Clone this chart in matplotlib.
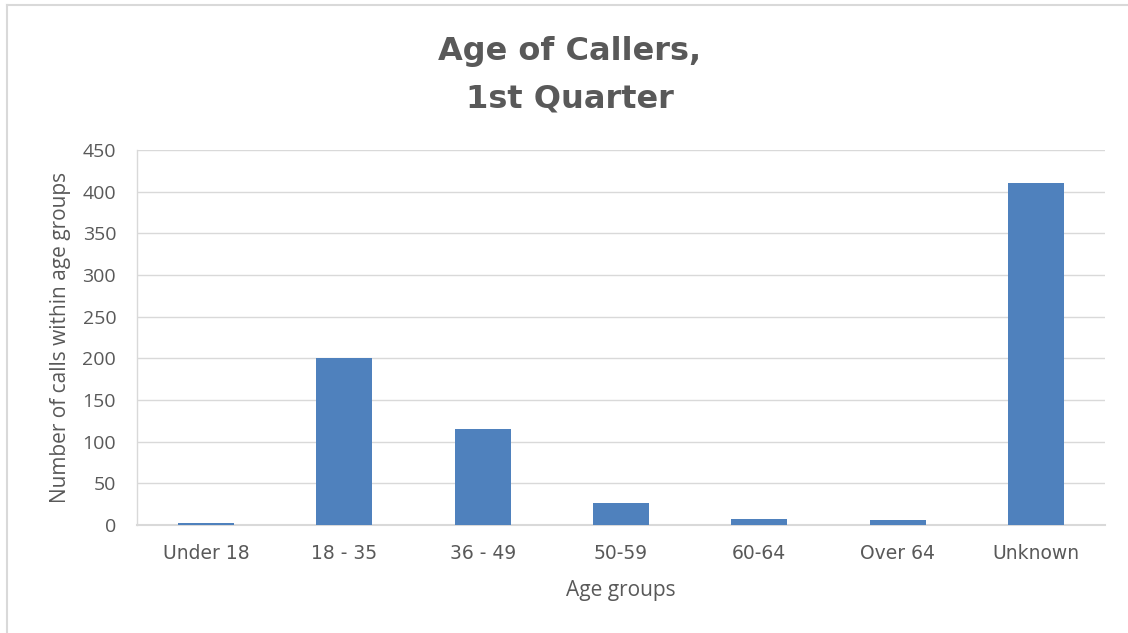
import matplotlib
matplotlib.use("Agg")
import matplotlib.pyplot as plt
from matplotlib.lines import Line2D

categories = ["Under 18", "18 - 35", "36 - 49", "50-59", "60-64", "Over 64", "Unknown"]
calls = [2, 200, 115, 27, 7, 6, 411]
yticks = [0, 50, 100, 150, 200, 250, 300, 350, 400, 450]

W, H = 1128, 633
plt.rcParams["font.family"] = ["Open Sans", "DejaVu Sans"]
fig = plt.figure(figsize=(W / 100, H / 100), dpi=100)
fig.patch.set_facecolor("white")
txt = "#595959"
grid = "#d9d9d9"

# outer chart frame (left and top edges visible)
fig.add_artist(Line2D([7 / W, 7 / W], [0, 1 - 5 / H], transform=fig.transFigure,
                      color=grid, linewidth=1.5))
fig.add_artist(Line2D([7 / W, 1], [1 - 5 / H, 1 - 5 / H], transform=fig.transFigure,
                      color=grid, linewidth=1.5))

ax = fig.add_axes([137 / W, (H - 525) / H, (1105 - 137) / W, (525 - 150) / H])
x = range(len(categories))
ax.bar(x, calls, width=0.405, color="#4f81bd", zorder=3)
ax.set_xlim(-0.5, len(categories) - 0.5)
ax.set_ylim(0, 450)
ax.set_yticks(yticks)
ax.set_xticks(list(x))
ax.set_xticklabels(categories, fontsize=13.5, color=txt, family="DejaVu Sans")
ax.tick_params(axis="y", labelsize=14, colors=txt, length=0, pad=15)
ax.tick_params(axis="x", length=0, pad=14)
ax.yaxis.grid(True, color=grid, linewidth=1, zorder=0)
for s in ["top", "right"]:
    ax.spines[s].set_visible(False)
for s in ["bottom", "left"]:
    ax.spines[s].set_color(grid)
ax.spines["bottom"].set_linewidth(1.5)
ax.spines["left"].set_linewidth(1)
ax.set_xlabel("Age groups", fontsize=15, color=txt, labelpad=12)
ax.set_ylabel("Number of calls within age groups", fontsize=15, color=txt, labelpad=8)

fig.text(570 / W, 1 - 75 / H, "Age of Callers,\n1st Quarter", ha="center", va="center",
         fontsize=23, fontweight="bold", color=txt, linespacing=1.7,
         family="DejaVu Sans")

fig.savefig("out.png", dpi=100)
